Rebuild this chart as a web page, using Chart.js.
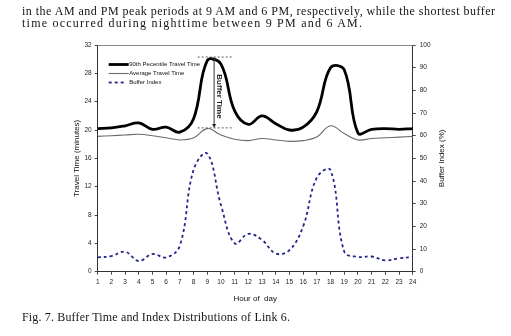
<!DOCTYPE html>
<html>
<head>
<meta charset="utf-8">
<script src="https://cdn.jsdelivr.net/npm/chart.js@4.4.1/dist/chart.umd.min.js"></script>
<style>
    html, body { margin: 0; padding: 0; background: #fff; }
    #wrap { position: relative; width: 511px; height: 336px; overflow: hidden; }
    #chart { position: absolute; left: 0; top: 0; }
    .txt {
        position: absolute; left: 22px;
        font-family: "Liberation Serif", "Times New Roman", serif;
        font-size: 12px; line-height: 12px; color: #151515;
        white-space: nowrap; transform-origin: 0 0;
    }
</style>
</head>
<body>
<div id="wrap">
    <canvas id="chart" width="511" height="336"></canvas>
    <div class="txt" style="top:5px" data-w="473">in the AM and PM peak periods at 9 AM and 6 PM, respectively, while the shortest buffer</div>
    <div class="txt" style="top:17px" data-w="340">time occurred during nighttime between 9 PM and 6 AM.</div>
    <div class="txt" style="top:311px" data-w="268">Fig. 7. Buffer Time and Index Distributions of Link 6.</div>
</div>
<script>
// hour of day
var hours = ['1', '2', '3', '4', '5', '6', '7', '8', '9', '10', '11', '12',
             '13', '14', '15', '16', '17', '18', '19', '20', '21', '22', '23', '24'];

// travel time, minutes (left axis)
var pct90Time = [20.2, 20.3, 20.6, 21.0, 20.1, 20.4, 19.7, 21.6, 29.8, 29.3, 22.7, 20.8,
                 22.0, 20.9, 20.0, 20.4, 22.6, 28.8, 28.5, 19.6, 20.1, 20.2, 20.1, 20.2];
var avgTime = [19.1, 19.2, 19.3, 19.4, 19.2, 18.9, 18.6, 18.9, 20.2, 19.3, 18.7, 18.5,
               18.8, 18.6, 18.4, 18.5, 19.0, 20.6, 19.5, 18.6, 18.8, 18.9, 19.0, 19.1];

// buffer index, % (right axis)
var bufferIndex = [6.3, 6.9, 8.8, 4.7, 7.8, 6.3, 11.5, 45.0, 52.1, 29.4, 12.5, 16.7,
                   14.0, 8.0, 9.5, 20.0, 41.5, 44.8, 8.9, 6.5, 6.7, 5.0, 5.9, 6.5];

var leftTicks = [0, 4, 8, 12, 16, 20, 24, 28, 32];
var rightTicks = [0, 10, 20, 30, 40, 50, 60, 70, 80, 90, 100];

// "Buffer Time" marker (hour, minutes)
var bufferHour = 9.5;
var bufferFrom = 8.3, bufferTo = 10.8;
var bufferTop = 30.3, bufferBase = 20.3;

var sans = '"Liberation Sans", Arial, sans-serif';
var tickFont = { family: sans, size: 6.5 };
var titleFont = { family: sans, size: 8 };

// frame, legend, right title, buffer time marker
var extras = {
    id: 'extras',
    afterDatasetsDraw: function (chart) {
        var c = chart.ctx, a = chart.chartArea;
        var xs = chart.scales.x, ys = chart.scales.y;
        c.save();

        // top frame line
        c.strokeStyle = '#8a8a8a';
        c.lineWidth = 1;
        c.beginPath();
        c.moveTo(a.left, a.top + 0.5);
        c.lineTo(a.right, a.top + 0.5);
        c.stroke();

        // buffer time marker
        var x0 = xs.getPixelForValue(bufferFrom - 1);
        var x1 = xs.getPixelForValue(bufferTo - 1);
        var xm = xs.getPixelForValue(bufferHour - 1);
        var yt = ys.getPixelForValue(bufferTop);
        var yb = ys.getPixelForValue(bufferBase);
        c.strokeStyle = '#333';
        c.lineWidth = 0.8;
        c.setLineDash([2, 2]);
        c.beginPath();
        c.moveTo(x0, yt); c.lineTo(x1, yt);
        c.moveTo(x0, yb); c.lineTo(x1, yb);
        c.stroke();
        c.setLineDash([]);
        c.lineWidth = 1;
        c.beginPath();
        c.moveTo(xm, yt + 3); c.lineTo(xm, yb - 3);
        c.stroke();
        c.fillStyle = '#222';
        c.beginPath();
        c.moveTo(xm, yt); c.lineTo(xm - 2, yt + 4); c.lineTo(xm + 2, yt + 4); c.closePath();
        c.moveTo(xm, yb); c.lineTo(xm - 2, yb - 4); c.lineTo(xm + 2, yb - 4); c.closePath();
        c.fill();
        c.save();
        c.translate(xm + 5.5, (yt + yb) / 2 + 4);
        c.rotate(Math.PI / 2);
        c.font = 'bold 8px ' + sans;
        c.textAlign = 'center';
        c.textBaseline = 'middle';
        c.fillText('Buffer Time', 0, 0);
        c.restore();

        // legend
        var lx = a.left + 11, ly = a.top + 19.5;
        c.font = '6px ' + sans;
        c.textBaseline = 'middle';
        c.textAlign = 'left';
        chart.data.datasets.forEach(function (ds, i) {
            var y = ly + i * 9;
            c.strokeStyle = ds.borderColor;
            c.lineWidth = ds.borderWidth;
            c.setLineDash(ds.borderDash || []);
            c.beginPath();
            c.moveTo(lx, y);
            c.lineTo(lx + (i === 2 ? 17 : 20), y);
            c.stroke();
            c.setLineDash([]);
            c.fillStyle = '#111';
            c.fillText(ds.label, lx + 20.5, y);
        });

        // right axis title
        c.save();
        c.translate(441.7, (a.top + a.bottom) / 2);
        c.rotate(-Math.PI / 2);
        c.font = '8px ' + sans;
        c.textAlign = 'center';
        c.textBaseline = 'middle';
        c.fillStyle = '#111';
        c.fillText('Buffer Index (%)', 0, 0);
        c.restore();

        c.restore();
    }
};

var axisGrid = { display: true, drawOnChartArea: false, tickLength: 3, color: '#444' };
var axisBorder = { color: '#333', width: 1 };

new Chart(document.getElementById('chart').getContext('2d'), {
    type: 'line',
    data: {
        labels: hours,
        datasets: [{
            label: '90th Pecentile Travel Time',
            data: pct90Time,
            borderColor: '#000',
            borderWidth: 2.8,
            yAxisID: 'y'
        }, {
            label: 'Average Travel Time',
            data: avgTime,
            borderColor: '#6a6a6a',
            borderWidth: 1.1,
            yAxisID: 'y'
        }, {
            label: 'Buffer Index',
            data: bufferIndex,
            borderColor: '#23238e',
            borderWidth: 1.8,
            borderDash: [3, 3],
            yAxisID: 'y1'
        }]
    },
    options: {
        responsive: false,
        animation: false,
        layout: { padding: { top: 45, left: 0, right: 0, bottom: 0 } },
        elements: {
            point: { radius: 0 },
            line: { tension: 0.4, fill: false }
        },
        plugins: {
            legend: { display: false },
            tooltip: { enabled: false }
        },
        scales: {
            x: {
                offset: false,
                grid: axisGrid,
                border: axisBorder,
                ticks: { font: tickFont, color: '#222', padding: 4, maxRotation: 0, autoSkip: false },
                title: { display: true, text: 'Hour of  day', font: titleFont, color: '#111',
                         padding: { top: 0, bottom: 32 } },
                afterFit: function (s) { s.height = 64.3; }
            },
            y: {
                position: 'left',
                min: 0, max: 32,
                grid: axisGrid,
                border: axisBorder,
                afterBuildTicks: function (s) { s.ticks = leftTicks.map(function (v) { return { value: v }; }); },
                ticks: { font: tickFont, color: '#222', padding: 3 },
                title: { display: true, text: 'Travel Time (minutes)', font: titleFont, color: '#111',
                         padding: { top: 72, bottom: 0 } },
                afterFit: function (s) { s.width = 97.7; }
            },
            y1: {
                position: 'right',
                min: 0, max: 100,
                grid: axisGrid,
                border: axisBorder,
                afterBuildTicks: function (s) { s.ticks = rightTicks.map(function (v) { return { value: v }; }); },
                ticks: { font: tickFont, color: '#222', padding: 4 },
                afterFit: function (s) { s.width = 98.3; }
            }
        }
    },
    plugins: [extras]
});

// spread the text lines to the widths in the page
document.querySelectorAll('.txt').forEach(function (el) {
    var w = el.getBoundingClientRect().width;
    var n = el.textContent.length - 1;
    el.style.letterSpacing = ((el.dataset.w - w) / n) + 'px';
});
</script>
</body>
</html>
